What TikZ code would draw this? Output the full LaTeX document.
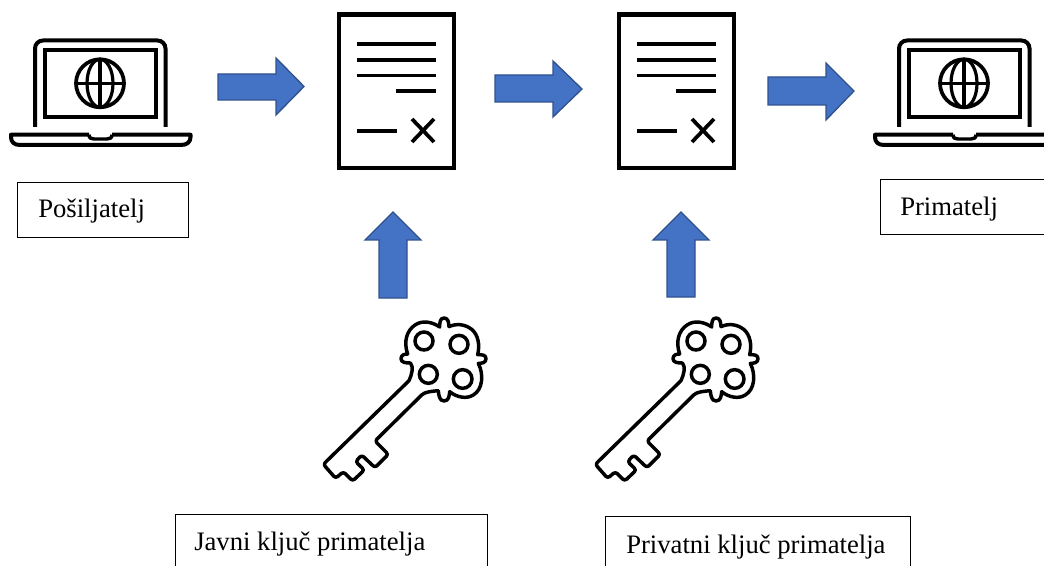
\documentclass[tikz,border=0pt]{standalone}
\usepackage{fontspec}
\setmainfont{Liberation Serif}
\definecolor{arrowfill}{HTML}{4472C4}
\definecolor{arrowline}{HTML}{2F528F}
\tikzset{
  icon/.style={draw=black,line width=3pt,fill=none,line join=miter},
  thinicon/.style={draw=black,line width=2.4pt},
  blockarrow/.style={draw=arrowline,fill=arrowfill,line width=1pt,line join=miter},
  labelbox/.style={draw=black,line width=.6pt,fill=white,anchor=north west,inner sep=0pt,minimum width=0pt},
  labeltext/.style={anchor=base west,inner sep=0pt,font=\fontsize{20pt}{23pt}\selectfont},
  laptop/.pic={
    \draw[icon,rounded corners=6pt] (35,127) -- (35,40.5) -- (165.5,40.5) -- (165.5,127);
    \draw[icon] (45,50) rectangle (156,117);
    \draw[thinicon,line width=2.8pt] (100,83.3) circle (24);
    \draw[thinicon] (100,83.3) ellipse (13 and 24);
    \draw[thinicon] (100,59.3) -- (100,107.3) (76,83.3) -- (124,83.3);
    \draw[icon,line join=round] (89,134.7) -- (11,134.7) -- (11,137)
      .. controls (11,142) and (14,145) .. (20,145) -- (181,145)
      .. controls (187,145) and (190.5,142) .. (190.5,137) -- (190.5,134.7) -- (112,134.7);
    \draw[icon,line join=round,line width=2.6pt] (89,134.7) .. controls (89,138) and (91,139) .. (94,139) -- (107,139) .. controls (110,139) and (112,138) .. (112,134.7);
  },
  document/.pic={
    \draw[icon,line width=3.2pt] (339,14.5) rectangle (454,168);
    \draw[icon] (356.7,44) -- (436,44);
    \draw[thinicon] (356.7,60) -- (436,60) (356.7,75.5) -- (436,75.5) (396,91) -- (436,91) (356.7,131) -- (396.5,131);
    \draw[icon,line width=2.8pt] (412,119) -- (434,142) (434,119) -- (412,142);
  },
  keyicon/.pic={
    \begin{scope}[shift={(310,300)},x=.25pt,y=-.25pt]
    \draw[icon,line width=2.6pt,line join=round]
      (297,242) [rounded corners=2pt] -- (40,493) -- (77,535) -- (100,515) -- (128,543) -- (163,510) -- (137,485) -- (155,465)
      -- (195,503) -- (235,463) -- (195,423) [sharp corners] -- (335,285)
      .. controls (345,275) and (365,274) .. (385,272)
      .. controls (386,285) and (388,303) .. (402,303)
      .. controls (416,303) and (418,288) .. (419,275)
      .. controls (440,292) and (470,298) .. (490,285)
      .. controls (518,268) and (522,225) .. (505,190)
      .. controls (515,190) and (528,189) .. (528,176)
      .. controls (528,164) and (515,164) .. (503,164)
      .. controls (510,135) and (505,105) .. (485,88)
      .. controls (465,72) and (438,70) .. (417,80)
      .. controls (416,68) and (415,54) .. (402,54)
      .. controls (390,54) and (389,68) .. (389,81)
      .. controls (370,68) and (340,58) .. (315,75)
      .. controls (290,92) and (280,125) .. (293,162)
      .. controls (283,162) and (273,165) .. (273,176)
      .. controls (273,188) and (288,189) .. (301,189)
      .. controls (312,200) and (305,225) .. (297,242) -- cycle;
    \draw[icon,line width=2.6pt] (342,123) circle (27) (447,133) circle (27) (355,223) circle (27) (458,237) circle (28);
    \end{scope}
  }
}
\begin{document}
\begin{tikzpicture}[x=.75pt,y=-.75pt]
\useasboundingbox (0,0) rectangle (1044,566);
\clip (0,0) rectangle (1044,566);
\pic {laptop};
\pic[xshift=648pt] {laptop};
\pic {document};
\pic[xshift=210pt] {document};
\pic {keyicon};
\pic[xshift=204pt] {keyicon};
% block arrows
\draw[blockarrow] (218,74) -- (276,74) -- (276,58) -- (304,86.5) -- (276,115) -- (276,100) -- (218,100) -- cycle;
\draw[blockarrow] (495,75) -- (553,75) -- (553,61) -- (582,89) -- (553,117) -- (553,102) -- (495,102) -- cycle;
\draw[blockarrow] (768,77) -- (826,77) -- (826,63) -- (854,91) -- (826,120) -- (826,105) -- (768,105) -- cycle;
\draw[blockarrow] (379,298) -- (379,240) -- (365,240) -- (393,212) -- (421,240) -- (407,240) -- (407,298) -- cycle;
\draw[blockarrow] (667,297) -- (667,240) -- (653,240) -- (681,212) -- (709,240) -- (695,240) -- (695,297) -- cycle;
% label boxes
\node[labelbox,minimum width=128.25pt,minimum height=41.25pt] (b1) at (17,182) {};
\node[labelbox,minimum width=150pt,minimum height=41.25pt] (b2) at (880,179) {};
\node[labelbox,minimum width=234pt,minimum height=60pt] (b3) at (175,514) {};
\node[labelbox,minimum width=228.75pt,minimum height=60pt] (b4) at (605,516) {};
\node[labeltext] at (38,218) {Pošiljatelj};
\node[labeltext] at (900,216) {Primatelj};
\node[labeltext] at (194,550) {Javni ključ primatelja};
\node[labeltext] at (626,553) {Privatni ključ primatelja};
\end{tikzpicture}
\end{document}
